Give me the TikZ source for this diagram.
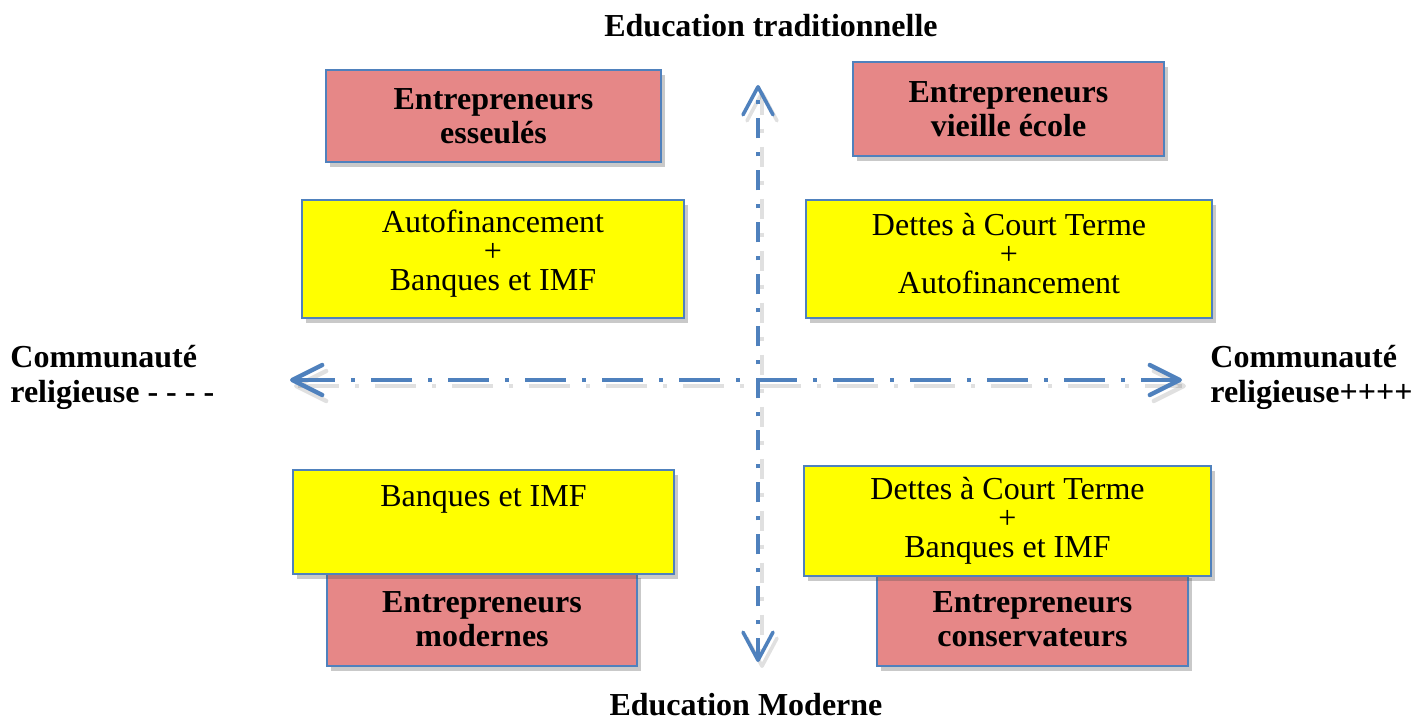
\documentclass[tikz,border=0pt]{standalone}
\usepackage{fontspec}
\setmainfont{Liberation Serif}
\usepackage{xcolor}
\usepackage{tikz}
\usetikzlibrary{positioning, arrows.meta, shadows}
\definecolor{axisblue}{RGB}{79, 129, 189}
\definecolor{typered}{RGB}{230, 135, 135}
\definecolor{finyellow}{RGB}{255, 255, 0}
\tikzset{
    quadbox/.style={
        draw=axisblue, line width=0.8pt, anchor=center, align=center, inner sep=0pt,
        drop shadow={shadow xshift=2pt, shadow yshift=-2.5pt, fill=black!70, opacity=0.3}
    },
    typebox/.style={
        quadbox, fill=typered, font=\bfseries\fontsize{16}{17}\selectfont
    },
    finbox/.style={
        quadbox, fill=finyellow
    },
    fintext/.style={
        font=\fontsize{16}{14.5}\selectfont, align=center, inner sep=0pt
    },
    axislabel/.style={
        font=\bfseries\fontsize{16}{17.5}\selectfont, align=left, inner sep=0pt
    }
}

\begin{document}
\begin{tikzpicture}[
        x=0.5pt, y=-0.5pt,
        % Axe horizontal (communaute religieuse)
        axisH/.style={
            axisblue, line width=2.2pt,
            dash pattern=on 20.5pt off 8pt on 2pt off 8pt,
            {Straight Barb[length=15pt, width=15pt, round]}-{Straight Barb[length=15pt, width=15pt, round]}
        },
        % Axe vertical (education)
        axisV/.style={
            axisblue, line width=1.8pt,
            dash pattern=on 10pt off 7pt on 2pt off 7pt,
            {Straight Barb[length=14pt, width=15pt, round]}-{Straight Barb[length=14pt, width=15pt, round]}
        },
        % Ombre des axes
        axisshadow/.style={
            black, opacity=0.12, transform canvas={xshift=2pt, yshift=-3pt}
        }
    ]
    \useasboundingbox (0,0) rectangle (1426,722);

    % --- LES AXES ---
    \coordinate (axW) at (290,380);
    \coordinate (axE) at (1182,380);
    \coordinate (axN) at (758,85);
    \coordinate (axS) at (758,662);

    \draw[axisH, axisshadow] (axW) -- (axE);
    \draw[axisV, axisshadow] (axN) -- (axS);
    \draw[axisH] (axW) -- (axE);
    \draw[axisV] (axS) -- (axN);

    % Titres des axes
    \node[axislabel] (eduTrad) at (771,26) {Education traditionnelle};
    \node[axislabel] (eduMod) at (746,705) {Education Moderne};
    \node[axislabel, anchor=west] (comMoins) at (10,377) {Communaut\'e\\religieuse - - - -};
    \node[axislabel, anchor=west] (comPlus) at (1210,377) {Communaut\'e\\religieuse++++};

    % --- QUADRANTS DU HAUT ---
    \node[typebox, minimum width=167.5pt, minimum height=46pt] (typeTL) at (493.5,116)
        {Entrepreneurs\\esseul\'es};
    \node[typebox, minimum width=155.5pt, minimum height=47pt] (typeTR) at (1008.5,109)
        {Entrepreneurs\\vieille \'ecole};
    \node[finbox, minimum width=191pt, minimum height=59pt] (finTL) at (493,259) {};
    \node[fintext] (finTLtext) at ([yshift=2.5pt]finTL.center)
        {Autofinancement\\+\\Banques et IMF};
    \node[finbox, minimum width=203pt, minimum height=59pt] (finTR) at (1009,259) {};
    \node[fintext] (finTRtext) at ([yshift=2.5pt]finTR.center)
        {Dettes \`a Court Terme\\+\\Autofinancement};

    % --- QUADRANTS DU BAS ---
    % Rouge dessous, jaune par-dessus
    \node[typebox, minimum width=155pt, minimum height=46.5pt] (typeBL) at (482,619.5)
        {Entrepreneurs\\modernes};
    \node[typebox, minimum width=155.5pt, minimum height=46.5pt] (typeBR) at (1032.5,619.5)
        {Entrepreneurs\\conservateurs};
    \node[finbox, minimum width=190.5pt, minimum height=52pt] (finBL) at (483.5,522) {};
    \node[fintext, below=8pt of finBL.north] (finBLtext) {Banques et IMF};
    \node[finbox, minimum width=203.5pt, minimum height=55pt] (finBR) at (1007.5,521) {};
    \node[fintext] (finBRtext) at (finBR.center)
        {Dettes \`a Court Terme\\+\\Banques et IMF};

\end{tikzpicture}
\end{document}
